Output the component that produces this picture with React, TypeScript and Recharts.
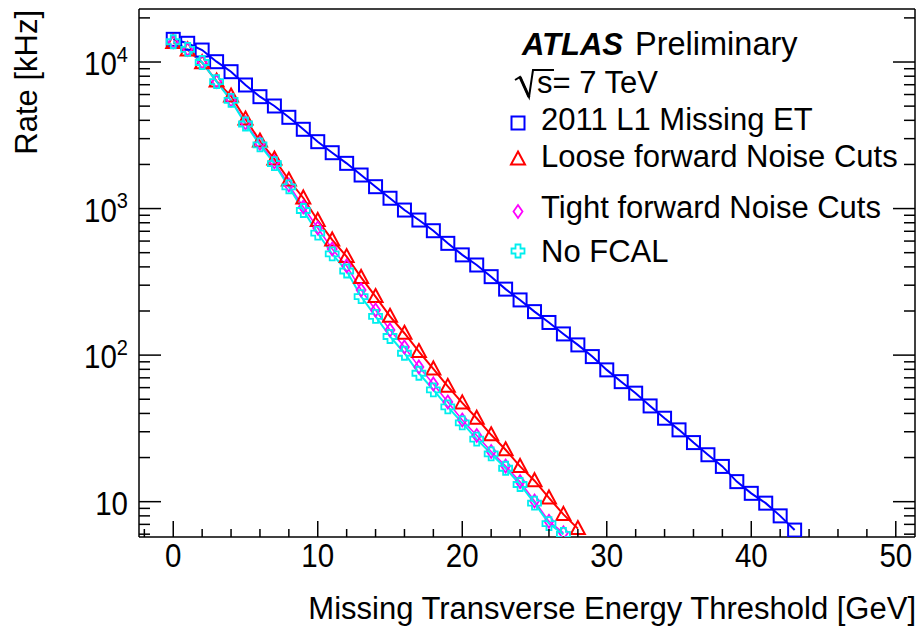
import React from 'react';
import { LineChart, Line, XAxis, YAxis, Legend } from 'recharts';

// Missing-ET trigger thresholds [GeV]
const THRESHOLDS = [
  0, 1, 2, 3, 4, 5, 6, 7, 8, 9, 10, 11, 12, 13, 14, 15, 16, 17, 18, 19, 20, 21,
  22, 23, 24, 25, 26, 27, 28, 29, 30, 31, 32, 33, 34, 35, 36, 37, 38, 39, 40, 41, 42, 43,
];

// Trigger rates [kHz] per threshold
const RATE_L1 = [
  14280, 13420, 12070, 10050, 8590, 6970, 5800, 5010, 4195, 3475, 2860, 2405, 2035, 1694,
  1410, 1176, 977, 835, 706, 579, 483, 412, 343, 282, 238, 198, 167, 139.5, 117.4, 97.7,
  79.3, 65.9, 55, 45, 37.1, 30.9, 25.3, 20.9, 17.4, 13.7, 11.4, 9.77, 8.0, 6.4,
];
const RATE_LOOSE = [
  13600, 12100, 9900, 7410, 5860, 4085, 2890, 2178, 1566, 1181, 830, 611, 470, 339, 251,
  184, 141, 105.7, 80.5, 61.2, 47.2, 37.1, 28.6, 22.6, 17.4, 13.9, 10.6, 8.19, 6.55,
];
const RATE_TIGHT = [
  13750, 12210, 10000, 7360, 5507, 3836, 2780, 2080, 1449, 1025, 737, 530, 406, 278.5, 203,
  148.5, 113.7, 83.1, 63.6, 47.9, 36.1, 28.3, 22.0, 17.5, 13.7, 10.1, 7.34, 6.13,
];
const RATE_NOFCAL = [
  13750, 12210, 9920, 7340, 5470, 3776, 2716, 2025, 1404, 970, 679, 490, 375, 251, 184,
  134, 103, 75.2, 57.9, 44.3, 34.5, 26.7, 21.2, 16.9, 13.1, 9.77, 7.09, 5.98,
];

const SERIES_NAMES = [
  '2011 L1 Missing ET',
  'Loose forward Noise Cuts',
  'Tight forward Noise Cuts',
  'No FCAL',
];
const SERIES_COLORS = ['#0000ff', '#ff0000', '#ff00ff', '#00eeee'];
const SERIES_MARKERS = ['square', 'triangle', 'diamond', 'cross'];
const SERIES_WIDTHS = [2, 2, 1.5, 2];

// Axis ticks
const X_MAJOR = [0, 10, 20, 30, 40, 50];
const X_TICKS = [-2, 0, 2, 4, 6, 8, 10, 12, 14, 16, 18, 20, 22, 24, 26, 28, 30, 32, 34, 36, 38, 40, 42, 44, 46, 48, 50];
const Y_TICKS = [
  6, 7, 8, 9, 10, 20, 30, 40, 50, 60, 70, 80, 90, 100, 200, 300, 400, 500, 600, 700, 800, 900,
  1000, 2000, 3000, 4000, 5000, 6000, 7000, 8000, 9000, 10000, 20000,
];
const Y_LABELS: Record<number, [string, string]> = {
  10: ['10', ''],
  100: ['10', '2'],
  1000: ['10', '3'],
  10000: ['10', '4'],
};

const X_DOMAIN = [-2.37, 51.33];
const Y_DOMAIN = [5.74, 23000];

const FONT = '"Liberation Sans", Arial, Helvetica, sans-serif';
const W = 922;
const H = 629;

const toRows = (vals: number[]) => vals.map((v, i) => ({ x: THRESHOLDS[i], v }));
const SERIES_DATA = [toRows(RATE_L1), toRows(RATE_LOOSE), toRows(RATE_TIGHT), toRows(RATE_NOFCAL)];

function Marker({ kind, cx, cy, color }: { kind: string; cx: number; cy: number; color: string }) {
  const common = { fill: 'none', stroke: color, strokeWidth: 2 };
  if (kind === 'square') {
    return <rect x={cx - 6.5} y={cy - 6.5} width={13} height={13} {...common} />;
  }
  if (kind === 'triangle') {
    return <path d={`M${cx},${cy - 7.5}L${cx + 7},${cy + 5.5}L${cx - 7},${cy + 5.5}Z`} {...common} />;
  }
  if (kind === 'diamond') {
    return (
      <path d={`M${cx},${cy - 6.5}L${cx + 4.5},${cy}L${cx},${cy + 6.5}L${cx - 4.5},${cy}Z`} {...common} strokeWidth={1.8} />
    );
  }
  const a = 2.5;
  const r = 6.5;
  return (
    <path
      d={`M${cx - a},${cy - r}H${cx + a}V${cy - a}H${cx + r}V${cy + a}H${cx + a}V${cy + r}H${cx - a}V${cy + a}H${cx - r}V${cy - a}H${cx - a}Z`}
      {...common}
      strokeWidth={1.8}
    />
  );
}

const makeDot = (idx: number) => (p: any) => (
  <Marker key={`m${idx}-${p.index}`} kind={SERIES_MARKERS[idx]} cx={p.cx} cy={p.cy} color={SERIES_COLORS[idx]} />
);

// tick numbers are drawn slightly taller than wide
const LABEL_STRETCH = 'scale(1, 1.1)';

const XTickBottom = (p: any) => {
  const major = X_MAJOR.includes(p.payload.value);
  return (
    <g>
      <line x1={p.x} x2={p.x} y1={p.y} y2={p.y - (major ? 16 : 8)} stroke="#000" strokeWidth={1.5} />
      {major && (
        <g transform={`translate(${p.x}, ${p.y + 30}) ${LABEL_STRETCH}`}>
          <text x={0} y={0} textAnchor="middle" fontSize={29.5} fontFamily={FONT} fill="#000">
            {p.payload.value}
          </text>
        </g>
      )}
    </g>
  );
};

const XTickTop = (p: any) => {
  const major = X_MAJOR.includes(p.payload.value);
  return <line x1={p.x} x2={p.x} y1={p.y} y2={p.y + (major ? 16 : 8)} stroke="#000" strokeWidth={1.5} />;
};

const YTickLeft = (p: any) => {
  const lab = Y_LABELS[p.payload.value];
  return (
    <g>
      <line x1={p.x} x2={p.x + (lab ? 22 : 11)} y1={p.y} y2={p.y} stroke="#000" strokeWidth={1.5} />
      {lab && (
        <g transform={`translate(${p.x - 11}, ${p.y + 13}) ${LABEL_STRETCH}`}>
          <text x={0} y={0} textAnchor="end" fontSize={29.5} fontFamily={FONT} fill="#000">
            <tspan>{lab[0]}</tspan>
            {lab[1] && (
              <tspan dy={-12} fontSize={20}>
                {lab[1]}
              </tspan>
            )}
          </text>
        </g>
      )}
    </g>
  );
};

const YTickRight = (p: any) => {
  const major = !!Y_LABELS[p.payload.value];
  return <line x1={p.x} x2={p.x - (major ? 22 : 11)} y1={p.y} y2={p.y} stroke="#000" strokeWidth={1.5} />;
};

const XTitle = () => (
  <text x={916} y={619} textAnchor="end" fontSize={31} fontFamily={FONT} fill="#000">
    Missing Transverse Energy Threshold [GeV]
  </text>
);

const YTitle = () => (
  <text x={36.5} y={10} transform="rotate(-90, 36.5, 10)" textAnchor="end" fontSize={31} fontFamily={FONT} fill="#000">
    Rate [kHz]
  </text>
);

// Legend rows: marker centre y and text baseline y
const LEGEND_MARKER_Y = [123, 159, 211.5, 251];
const LEGEND_TEXT_Y = [130, 166.7, 218.3, 261.7];

const LegendBox = () => (
  <svg width={W} height={H} style={{ position: 'absolute', left: 0, top: 0 }}>
    <text x={522} y={55} fontSize={31} fontFamily={FONT} fontWeight="bold" fontStyle="italic" fill="#000">
      ATLAS
    </text>
    <text x={635} y={55} fontSize={32.5} fontFamily={FONT} fill="#000">
      Preliminary
    </text>
    <path d="M515,80 L520,77 L529,97 L533,70 L554,70" fill="none" stroke="#000" strokeWidth={2} />
    <path d="M520,77 L529,97" fill="none" stroke="#000" strokeWidth={3} />
    <text x={537} y={93} fontSize={31} fontFamily={FONT} fill="#000">
      s= 7 TeV
    </text>
    {SERIES_NAMES.map((name, i) => (
      <g key={name}>
        <Marker kind={SERIES_MARKERS[i]} cx={518} cy={LEGEND_MARKER_Y[i]} color={SERIES_COLORS[i]} />
        <text x={541} y={LEGEND_TEXT_Y[i]} fontSize={31} fontFamily={FONT} fill="#000">
          {name}
        </text>
      </g>
    ))}
  </svg>
);

export default function App() {
  return (
    <div style={{ width: W, height: H, background: '#fff', overflow: 'hidden' }}>
      <style>{'body{margin:0}'}</style>
      <LineChart width={W} height={H} margin={{ top: 0, right: 0, bottom: 0, left: 0 }}>
        <XAxis
          xAxisId="b"
          dataKey="x"
          type="number"
          domain={X_DOMAIN}
          allowDataOverflow
          ticks={X_TICKS}
          interval={0}
          height={92}
          tickSize={0}
          tickMargin={0}
          tickLine={false}
          tick={XTickBottom}
          axisLine={{ stroke: '#000', strokeWidth: 1.5 }}
          label={XTitle}
        />
        <XAxis
          xAxisId="t"
          orientation="top"
          type="number"
          domain={X_DOMAIN}
          allowDataOverflow
          ticks={X_TICKS}
          interval={0}
          height={9}
          tickSize={0}
          tickMargin={0}
          tickLine={false}
          tick={XTickTop}
          axisLine={{ stroke: '#000', strokeWidth: 1.5 }}
        />
        <YAxis
          yAxisId="l"
          type="number"
          scale="log"
          domain={Y_DOMAIN}
          allowDataOverflow
          ticks={Y_TICKS}
          interval={0}
          width={139}
          tickSize={0}
          tickMargin={0}
          tickLine={false}
          tick={YTickLeft}
          axisLine={{ stroke: '#000', strokeWidth: 1.5 }}
          label={YTitle}
        />
        <YAxis
          yAxisId="r"
          orientation="right"
          type="number"
          scale="log"
          domain={Y_DOMAIN}
          allowDataOverflow
          ticks={Y_TICKS}
          interval={0}
          width={7}
          tickSize={0}
          tickMargin={0}
          tickLine={false}
          tick={YTickRight}
          axisLine={{ stroke: '#000', strokeWidth: 1.5 }}
        />
        {SERIES_DATA.map((rows, i) => (
          <Line
            key={SERIES_NAMES[i]}
            xAxisId="b"
            yAxisId="l"
            data={rows}
            dataKey="v"
            name={SERIES_NAMES[i]}
            type="linear"
            stroke={SERIES_COLORS[i]}
            strokeWidth={SERIES_WIDTHS[i]}
            dot={makeDot(i)}
            activeDot={false}
            isAnimationActive={false}
          />
        ))}
        <Legend
          layout="horizontal"
          verticalAlign="middle"
          align="center"
          wrapperStyle={{ left: 0, top: 0, width: W, height: H, pointerEvents: 'none' }}
          content={LegendBox}
        />
      </LineChart>
    </div>
  );
}
